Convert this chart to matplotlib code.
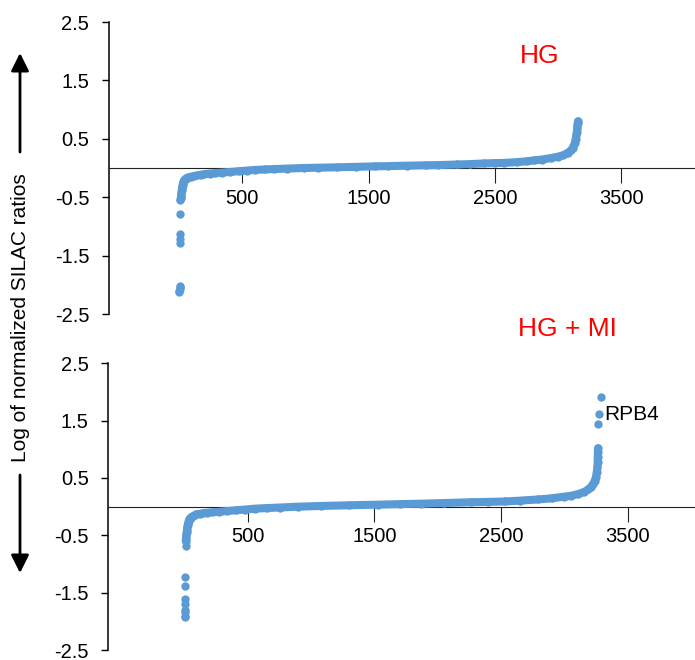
import matplotlib
matplotlib.use("Agg")
import matplotlib.pyplot as plt

plt.rcParams['font.family'] = ['Liberation Sans', 'DejaVu Sans']
plt.rcParams['axes.unicode_minus'] = False

# ---------------- data ----------------
x_ticks = [500, 1500, 2500, 3500]
y_ticks = [-2.5, -1.5, -0.5, 0.5, 1.5, 2.5]
y_tick_labels = ["-2.5", "-1.5", "-0.5", "0.5", "1.5", "2.5"]

# HG panel: isolated points and continuous sorted curve (rank, log ratio)
hg_out_rank = [1, 2, 3, 4, 5, 6, 7, 8, 9]
hg_out_value = [-2.12, -2.10, -2.07, -2.04, -2.02, -1.28, -1.22, -1.13, -0.79]
hg_rank = [10, 12, 14, 16, 18, 20, 22, 24, 27, 30,
           34, 40, 50, 60, 75, 90, 115, 140, 170, 200,
           240, 280, 340, 400, 470, 540, 600, 680, 750, 850,
           985, 1100, 1250, 1400, 1550, 1650, 1800, 1950, 2050, 2200,
           2300, 2410, 2500, 2570, 2670, 2750, 2810, 2870, 2940, 3000,
           3040, 3075, 3100, 3115, 3130, 3138, 3143, 3147, 3150, 3152,
           3154, 3155]
hg_value = [-0.55, -0.52, -0.49, -0.46, -0.42, -0.38, -0.35, -0.32, -0.29, -0.26,
            -0.23, -0.205, -0.185, -0.17, -0.158, -0.15, -0.138, -0.128, -0.115, -0.105,
            -0.095, -0.088, -0.078, -0.068, -0.055, -0.043, -0.033, -0.025, -0.018, -0.01,
            0.0, 0.005, 0.012, 0.02, 0.028, 0.032, 0.04, 0.046, 0.05, 0.06,
            0.067, 0.078, 0.084, 0.088, 0.10, 0.115, 0.13, 0.145, 0.17, 0.195,
            0.22, 0.26, 0.30, 0.35, 0.42, 0.50, 0.56, 0.62, 0.68, 0.73,
            0.77, 0.80]

# HG + MI panel
hgmi_out_rank = [1, 2, 3, 4, 5, 6, 7, 8, 9, 3269, 3272, 3291]
hgmi_out_value = [-1.93, -1.90, -1.84, -1.81, -1.70, -1.61, -1.38, -1.23, -0.69,
                  1.44, 1.61, 1.91]
hgmi_rank = [10, 12, 14, 16, 18, 20, 23, 26, 30, 35,
             40, 50, 64, 80, 95, 120, 145, 180, 220, 277,
             340, 409, 480, 554, 650, 751, 900, 1080, 1300, 1527,
             1700, 1870, 2050, 2265, 2400, 2528, 2650, 2791, 2900, 3000,
             3054, 3110, 3159, 3190, 3212, 3228, 3240, 3250, 3256, 3261,
             3263, 3264, 3265, 3266]
hgmi_value = [-0.60, -0.56, -0.52, -0.48, -0.44, -0.40, -0.36, -0.32, -0.28, -0.25,
              -0.22, -0.19, -0.17, -0.15, -0.135, -0.125, -0.115, -0.105, -0.098, -0.09,
              -0.075, -0.063, -0.05, -0.035, -0.025, -0.015, 0.0, 0.012, 0.024, 0.035,
              0.044, 0.052, 0.063, 0.077, 0.083, 0.09, 0.105, 0.125, 0.145, 0.175,
              0.19, 0.22, 0.26, 0.30, 0.35, 0.40, 0.45, 0.52, 0.60, 0.69,
              0.78, 0.87, 0.95, 1.02]

blue = '#5B9BD5'
W, H = 695, 660
fig = plt.figure(figsize=(W / 100, H / 100), dpi=100)


def make_axes(left, top_px, bottom_px, xlim):
    ax = fig.add_axes([left / W, 1 - bottom_px / H, (W - left) / W, (bottom_px - top_px) / H])
    ax.set_xlim(*xlim)
    ax.set_ylim(-2.5, 2.5)
    ax.spines['top'].set_visible(False)
    ax.spines['right'].set_visible(False)
    ax.spines['bottom'].set_position(('data', 0))
    ax.spines['bottom'].set_linewidth(0.8)
    ax.spines['bottom'].set_color('#222222')
    ax.spines['left'].set_linewidth(1.1)
    ax.set_xticks(x_ticks)
    ax.set_xticklabels([str(t) for t in x_ticks])
    ax.set_yticks(y_ticks)
    ax.set_yticklabels(y_tick_labels)
    ax.tick_params(axis='x', direction='out', length=11, width=0.8, pad=4,
                   labelsize=14.5, color='#222222')
    ax.tick_params(axis='y', direction='out', length=5, width=1.0, pad=9,
                   labelsize=14.5)
    ax.patch.set_alpha(0)
    return ax


ax1 = make_axes(108.7, 22, 314, (-558, 4082))
ax2 = make_axes(108.3, 363.3, 650, (-601, 4032))

for ax, r, v, orr, ov in [(ax1, hg_rank, hg_value, hg_out_rank, hg_out_value),
                          (ax2, hgmi_rank, hgmi_value, hgmi_out_rank, hgmi_out_value)]:
    ax.plot(r, v, '-', color=blue, lw=5.8, solid_capstyle='round',
            solid_joinstyle='round', zorder=3)
    ax.plot(r, v, 'o', color=blue, ms=6, mec='none', zorder=3)
    ax.plot(orr, ov, 'o', color=blue, ms=6, mec='none', zorder=3)

ax1.text(2856, 1.92, "HG", color='#FF0000', fontsize=19, ha='center', va='center')
ax2.text(3025, 3.10, "HG + MI", color='#FF0000', fontsize=19, ha='center',
         va='center', clip_on=False)
ax2.text(3315, 1.60, "RPB4", fontsize=15, ha='left', va='center')

fig.text(20.5 / W, 1 - 317.5 / H, "Log of normalized SILAC ratios", rotation=90,
         ha='center', va='center', fontsize=15)

arrow_kw = dict(arrowstyle='-|>,head_length=0.4,head_width=0.2', lw=2,
                color='black', mutation_scale=27, shrinkA=0, shrinkB=0)
ax1.annotate('', xy=(20, H - 53), xytext=(20, H - 152), xycoords='figure pixels',
             textcoords='figure pixels', arrowprops=arrow_kw)
ax1.annotate('', xy=(20, H - 573), xytext=(20, H - 475), xycoords='figure pixels',
             textcoords='figure pixels', arrowprops=arrow_kw)

fig.savefig('out.png', dpi=100)
